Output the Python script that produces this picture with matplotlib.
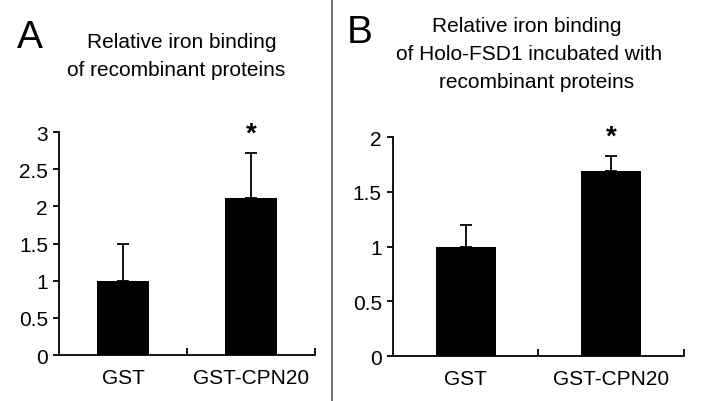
import matplotlib
matplotlib.use("Agg")
import matplotlib.pyplot as plt
from matplotlib.lines import Line2D

plt.rcParams["font.family"] = ["Liberation Sans", "DejaVu Sans"]

categories = ["GST", "GST-CPN20"]

# panel A: relative iron binding of recombinant proteins
a_values = [1.0, 2.11]
a_errors = [0.49, 0.61]
a_ticks = [0, 0.5, 1, 1.5, 2, 2.5, 3]

# panel B: relative iron binding of Holo-FSD1 incubated with recombinant proteins
b_values = [1.0, 1.69]
b_errors = [0.2, 0.14]
b_ticks = [0, 0.5, 1, 1.5, 2]


def fmt(v):
    return f"{v:g}"


def draw_panel(ax, values, errors, ticks, ymax, star_y):
    x = list(range(len(categories)))
    ax.bar(x, values, width=0.41, color="black", zorder=2)
    ax.errorbar(x, values, yerr=[[0] * len(errors), errors], fmt="none",
                ecolor="black", elinewidth=1.3, capsize=4.5, capthick=1.3, zorder=1)
    ax.set_xlim(-0.5, 1.5)
    ax.set_ylim(0, ymax)
    for s in ("top", "right"):
        ax.spines[s].set_visible(False)
    for s in ("left", "bottom"):
        ax.spines[s].set_linewidth(1.3)
    ax.set_yticks(ticks)
    ax.set_yticklabels([fmt(t) for t in ticks], fontsize=15)
    ax.tick_params(axis="y", direction="out", length=4, width=1.3, pad=4)
    ax.set_xticks(x)
    ax.set_xticklabels(categories, fontsize=15)
    ax.tick_params(axis="x", length=0, pad=9)
    ax.set_xticks([0.5, 1.5], minor=True)
    ax.tick_params(axis="x", which="minor", direction="in", length=5, width=1.3)
    ax.text(1, star_y, "*", ha="center", va="center", fontsize=20,
            fontweight="bold", clip_on=False)


fig = plt.figure(figsize=(7.02, 4.02), dpi=100)

ax_a = fig.add_axes([59 / 702, 0.1144, 256 / 702, 0.5547])
draw_panel(ax_a, a_values, a_errors, a_ticks, 3, 2.98)

ax_b = fig.add_axes([0.5598, 0.1119, 0.4145, 0.5448])
draw_panel(ax_b, b_values, b_errors, b_ticks, 2, 2.0)

# panel letters and titles
fig.text(17 / 702, 1 - 38 / 402, "A", fontsize=28, ha="left", va="center")
fig.text(347 / 702, 1 - 33 / 402, "B", fontsize=28, ha="left", va="center")

title_kw = dict(fontsize=15, ha="center", va="center")
fig.text(182 / 702, 1 - 42 / 402, "Relative iron binding", **title_kw)
fig.text(176 / 702, 1 - 71 / 402, "of recombinant proteins", **title_kw)
fig.text(527 / 702, 1 - 27 / 402, "Relative iron binding", **title_kw)
fig.text(529 / 702, 1 - 55 / 402, "of Holo-FSD1 incubated with", **title_kw)
fig.text(537 / 702, 1 - 82 / 402, "recombinant proteins", **title_kw)

# divider between panels
fig.add_artist(Line2D([332 / 702, 332 / 702], [0, 1], color="#555555",
                      linewidth=1.2, transform=fig.transFigure))

fig.savefig("out.png", dpi=100)
